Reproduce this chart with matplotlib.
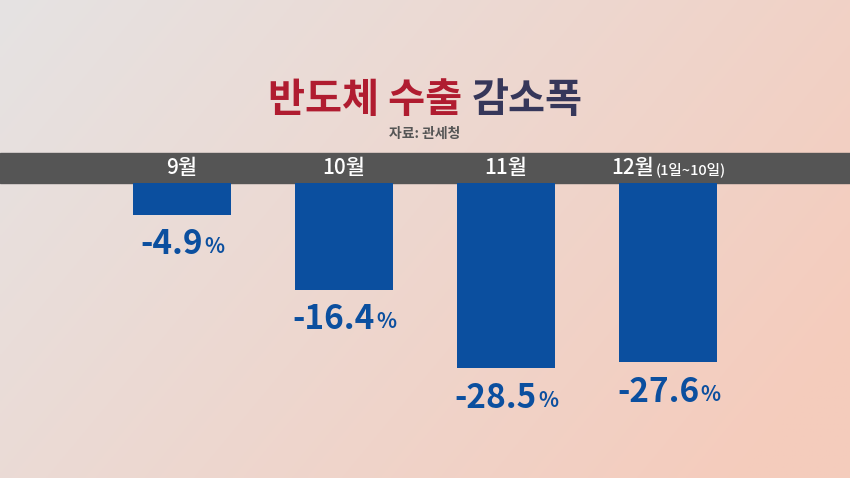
import numpy as np
import matplotlib.pyplot as plt
from matplotlib.patches import Rectangle

plt.rcParams["font.family"] = ["Noto Sans CJK KR", "Noto Sans CJK JP", "Noto Sans CJK SC",
                               "Noto Sans", "DejaVu Sans"]

months = ["9월", "10월", "11월", "12월"]
month_notes = ["", "", "", "(1일~10일)"]
changes = [-4.9, -16.4, -28.5, -27.6]

W, H = 850, 478
BAR_COLOR = "#0b4f9f"

fig = plt.figure(figsize=(W / 100, H / 100), dpi=100)

# background gradient: light gray on the left, peach on the right
bg = fig.add_axes([0, 0, 1, 1])
gx = np.linspace(0, 1, 300)
gy = np.linspace(0, 1, 200)
X, Y = np.meshgrid(gx, gy)
t = np.clip(0.75 * X + 0.35 * Y, 0, 1)
c0 = np.array([0.90, 0.89, 0.89])
c1 = np.array([0.96, 0.80, 0.74])
img = c0 + (c1 - c0) * t[..., None]
bg.imshow(img, extent=[0, W, H, 0], aspect="auto")
bg.set_xlim(0, W)
bg.set_ylim(H, 0)
bg.axis("off")

# grey band with month labels
bg.add_patch(Rectangle((0, 153), W, 30, color="#555555", zorder=2))

# title
bg.text(462, 100, "반도체 수출", color="#b01c30", fontsize=29, fontweight="bold",
        ha="right", va="center", zorder=3)
bg.text(472, 100, "감소폭", color="#36375a", fontsize=29, fontweight="bold",
        ha="left", va="center", zorder=3)
bg.text(425, 134, "자료: 관세청", color="#555555", fontsize=10, fontweight="bold",
        ha="center", va="center", zorder=3)

# bar axes: top edge sits on the band's bottom edge
ax = fig.add_axes([101 / W, 0, 648 / W, 295 / H])
ax.set_xlim(-0.5, 3.5)
ax.set_ylim(-295 / 6.5, 0)
ax.patch.set_alpha(0)
ax.axis("off")
x = np.arange(len(months))
ax.bar(x, changes, width=98 / 162, color=BAR_COLOR)

fig.canvas.draw()
r = fig.canvas.get_renderer()

def two_part(axis, xv, yv, big, small, big_size, small_size, color, dy, weight="bold"):
    # draw big text + smaller suffix centred together
    kw = dict(color=color, fontweight=weight, va="center")
    a = axis.annotate(big, xy=(xv, yv), xytext=(0, dy), textcoords="offset pixels",
                      ha="left", fontsize=big_size, **kw)
    b = axis.annotate(small, xy=(xv, yv), xytext=(0, dy - 1), textcoords="offset pixels",
                      ha="left", fontsize=small_size, **kw)
    wa = a.get_window_extent(r).width
    wb = b.get_window_extent(r).width if small else 0
    total = wa + wb
    a.set_position((-total / 2, dy))
    b.set_position((-total / 2 + wa + 1, dy - 2))

for i in range(len(months)):
    two_part(ax, x[i], 0, months[i], month_notes[i], 15, 10.5, "white", 15, "medium")
    lab = "{:.1f}".format(changes[i])
    two_part(ax, x[i], changes[i], lab, "%", 24, 15, BAR_COLOR, -30)

plt.savefig("out.png", dpi=100)
